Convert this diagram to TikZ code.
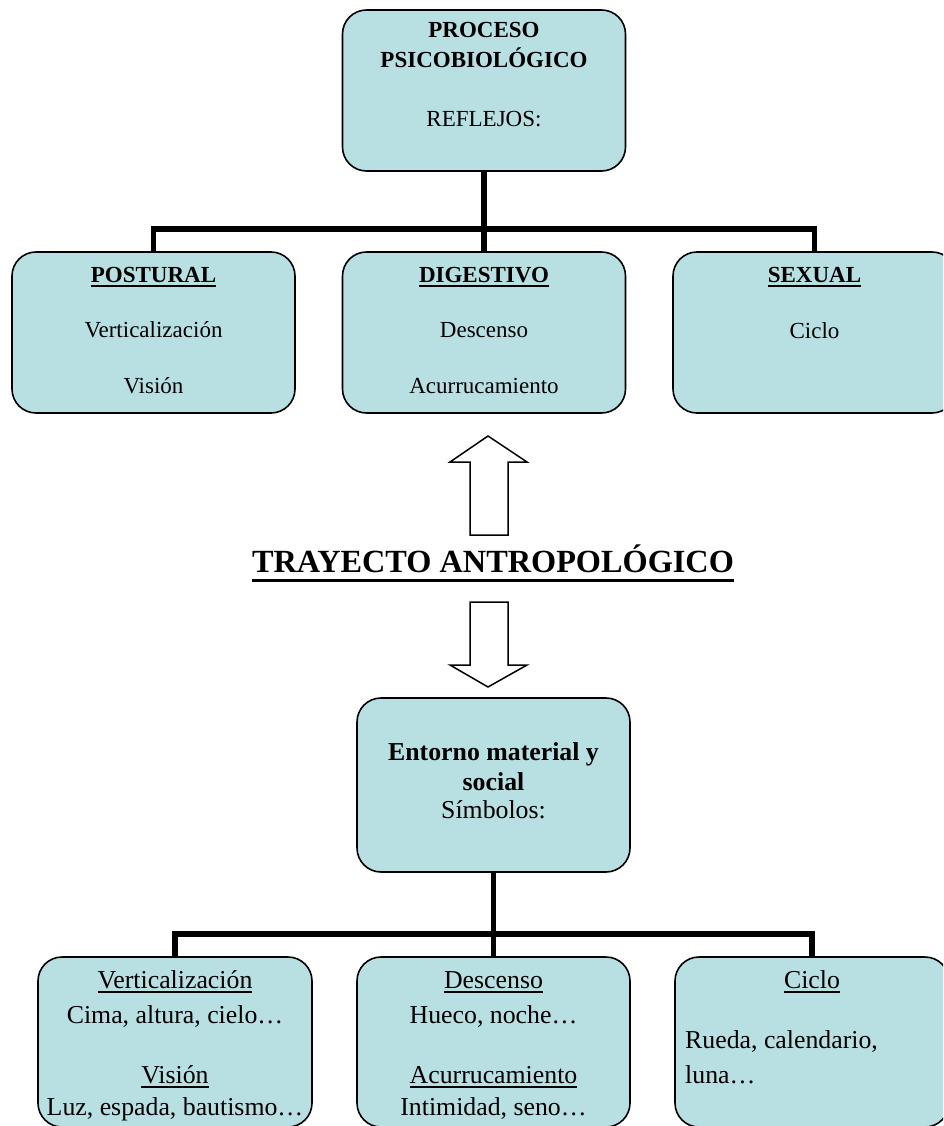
\documentclass[tikz,border=0pt]{standalone}
\usepackage{fontspec}
\setmainfont{Liberation Serif}
\definecolor{boxfill}{HTML}{B8DFE2}
\newcommand{\myul}[1]{\leavevmode\setbox0=\hbox{#1}\rlap{\rule[-4.5pt]{\wd0}{1.8pt}}\box0}
\newcommand{\myulT}[1]{\leavevmode\setbox0=\hbox{#1}\rlap{\rule[-10pt]{\wd0}{3.5pt}}\box0}
\begin{document}
\begin{tikzpicture}[x=1pt,y=-1pt,
  box/.style={draw=black,line width=1.6pt,fill=boxfill,rounded corners=24pt,inner sep=0pt},
  topbox/.style={box,minimum width=283pt,minimum height=161pt},
  botbox/.style={box,minimum width=274pt,minimum height=170pt},
  conn/.style={line width=5.5pt,black},
  blockarrow/.style={draw=black,line width=1.5pt,fill=white,line join=miter},
  ts/.style={anchor=base,inner sep=0pt,font=\fontsize{23}{27}\selectfont},
  bs/.style={anchor=base,inner sep=0pt,font=\fontsize{25.8}{30}\selectfont},
  ]
\useasboundingbox (0,0) rectangle (943,1126);
\clip (0,0) rectangle (943,1126);
% boxes
\node[topbox] (proc) at (484,90.5) {};
\node[topbox] (pos) at (153.5,332.5) {};
\node[topbox] (dig) at (484,332.5) {};
\node[topbox] (sex) at (814.5,332.5) {};
\node[box,minimum width=273pt,minimum height=174pt] (ent) at (493.5,785) {};
\node[botbox] (b1) at (175,1042) {};
\node[botbox,minimum width=273pt] (b2) at (493.5,1042) {};
\node[botbox] (b3) at (812,1042) {};
% connectors
\coordinate (h1) at (484,229);
\draw[conn] (proc.south) -- (h1) -- (dig.north);
\draw[conn] (pos.north) |- (h1) -| (sex.north);
\coordinate (h2) at (493.5,934);
\draw[conn] (ent.south) -- (h2) -- (b2.north);
\draw[conn] (b1.north) |- (h2) -| (b3.north);
% block arrows
\draw[blockarrow] (488,436) -- (527,462) -- (508,462) -- (508,535) -- (470,535) -- (470,462) -- (450,462) -- cycle;
\draw[blockarrow] (470,602) -- (508,602) -- (508,665) -- (527,665) -- (488,687) -- (450,665) -- (470,665) -- cycle;
% top texts
\node[ts] (t1) at (484,38) {\textbf{PROCESO}};
\node[ts] (t2) at (484,68) {\textbf{PSICOBIOLÓGICO}};
\node[ts] (t3) at (484,127) {REFLEJOS:};
\node[ts] (p1) at (153.5,282) {\textbf{\myul{POSTURAL}}};
\node[ts] (p2) at (153.5,337) {Verticalización};
\node[ts] (p3) at (153.5,393) {Visión};
\node[ts] (d1) at (484,282) {\textbf{\myul{DIGESTIVO}}};
\node[ts] (d2) at (484,337) {Descenso};
\node[ts] (d3) at (484,393) {Acurrucamiento};
\node[ts] (s1) at (814.5,282) {\textbf{\myul{SEXUAL}}};
\node[ts] (s2) at (814.5,338) {Ciclo};
% title
\node[anchor=base,inner sep=0pt,font=\fontsize{32.3}{38}\selectfont\bfseries] (title) at (493,572) {\myulT{TRAYECTO ANTROPOLÓGICO}};
% entorno
\node[bs] (e1) at (493.5,760) {\textbf{Entorno material y}};
\node[bs] (e2) at (493.5,790) {\textbf{social}};
\node[bs] (e3) at (493.5,818) {Símbolos:};
% bottom texts
\node[bs] (a1) at (175,988) {\myul{Verticalización}};
\node[bs] (a2) at (175,1023) {Cima, altura, cielo…};
\node[bs] (a3) at (175,1083) {\myul{Visión}};
\node[bs] (a4) at (175,1115) {Luz, espada, bautismo…};
\node[bs] (c1) at (493.5,988) {\myul{Descenso}};
\node[bs] (c2) at (493.5,1023) {Hueco, noche…};
\node[bs] (c3) at (493.5,1083) {\myul{Acurrucamiento}};
\node[bs] (c4) at (493.5,1115) {Intimidad, seno…};
\node[bs] (r1) at (812,988) {\myul{Ciclo}};
\node[bs,anchor=base west] (r2) at (685,1048) {Rueda, calendario,};
\node[bs,anchor=base west] (r3) at (685,1083) {luna…};
\end{tikzpicture}
\end{document}
